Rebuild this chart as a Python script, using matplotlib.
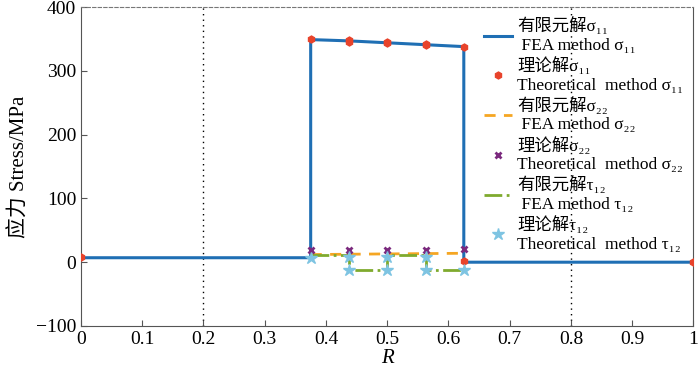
import matplotlib.pyplot as plt

plt.rcParams['font.family'] = ['Liberation Serif', 'Noto Sans CJK SC', 'DejaVu Serif']

# 有限元解 sigma11 (阶梯)
r_fea11 = [0, 0.375, 0.375, 0.4375, 0.5, 0.5625, 0.625, 0.625, 1.0]
s_fea11 = [7, 7, 349, 347, 344, 341, 338, 0, 0]
# 理论解 sigma11
r_th11 = [0, 0.375, 0.4375, 0.4375, 0.5, 0.5, 0.5625, 0.5625, 0.625, 0.625, 1.0]
s_th11 = [8, 350, 349, 346, 345, 343, 342, 340, 338, 2, 0]
# 有限元解 sigma22
r_fea22 = [0.375, 0.625]
s_fea22 = [12, 14]
# 理论解 sigma22
r_th22 = [0.375, 0.4375, 0.5, 0.5625, 0.625]
s_th22 = [19, 19, 19, 19, 20]
# 有限元解 tau12
r_fea12 = [0.375, 0.4375, 0.4375, 0.5, 0.5, 0.5625, 0.5625, 0.625]
s_fea12 = [12, 12, -13, -13, 12, 12, -13, -13]
# 理论解 tau12
r_th12 = [0.375, 0.4375, 0.4375, 0.5, 0.5, 0.5625, 0.5625, 0.625]
s_th12 = [7, 8, -12, -12, 8, 8, -12, -12]

lbl = [
    '有限元解σ\u2081\u2081\n FEA method σ\u2081\u2081',
    '理论解σ\u2081\u2081\nTheoretical  method σ\u2081\u2081',
    '有限元解σ\u2082\u2082\n FEA method σ\u2082\u2082',
    '理论解σ\u2082\u2082\nTheoretical  method σ\u2082\u2082',
    '有限元解τ\u2081\u2082\n FEA method τ\u2081\u2082',
    '理论解τ\u2081\u2082\nTheoretical  method τ\u2081\u2082',
]

fig = plt.figure(figsize=(7, 3.72), dpi=100)
ax = fig.add_axes([0.1157, 0.1237, 0.875, 0.8573])

ax.plot(r_fea11, s_fea11, color='#1f6fb4', lw=2.2, label=lbl[0], zorder=3)
ax.plot(r_th11, s_th11, ls='none', marker='h', ms=5, color='#e8432b', label=lbl[1], zorder=5)
ax.plot(r_fea22, s_fea22, color='#f5a623', lw=2, ls=(0, (4, 3)), label=lbl[2], zorder=3)
ax.plot(r_th22, s_th22, ls='none', marker='x', ms=5, mew=2, color='#7b2a7e', label=lbl[3], zorder=5)
ax.plot(r_fea12, s_fea12, color='#7faa2e', lw=2, ls='-.', label=lbl[4], zorder=4)
ax.plot(r_th12, s_th12, ls='none', marker='*', ms=9, color='#7ec4e2', label=lbl[5], zorder=6)

# 辅助虚线
for xv in [0.2, 0.8]:
    ax.axvline(xv, color='black', ls=(0, (1, 3)), lw=1, zorder=1)

ax.set_xlim(0, 1)
ax.set_ylim(-100, 400)
ax.set_xticks([0, 0.1, 0.2, 0.3, 0.4, 0.5, 0.6, 0.7, 0.8, 0.9, 1])
ax.set_xticklabels(['0', '0.1', '0.2', '0.3', '0.4', '0.5', '0.6', '0.7', '0.8', '0.9', '1'])
ax.set_yticks([-100, 0, 100, 200, 300, 400])
ax.set_yticklabels(['\u2212100', '0', '100', '200', '300', '400'])
ax.tick_params(direction='in', labelsize=14, length=4, color='#555555')
for s in ['left', 'right', 'bottom']:
    ax.spines[s].set_color('#555555')
ax.spines['top'].set_linestyle((0, (3, 2)))
ax.spines['top'].set_color('#777777')

ax.set_xlabel('R', fontsize=15, style='italic', labelpad=1)
ax.set_ylabel('应力 Stress/MPa', fontsize=15, labelpad=4)

leg = ax.legend(loc='upper right', bbox_to_anchor=(1.0, 1.0), frameon=False,
                fontsize=12.5, handlelength=1.6, handletextpad=0.3,
                labelspacing=0.2, borderaxespad=0.2)

plt.savefig('out.png', dpi=100)
